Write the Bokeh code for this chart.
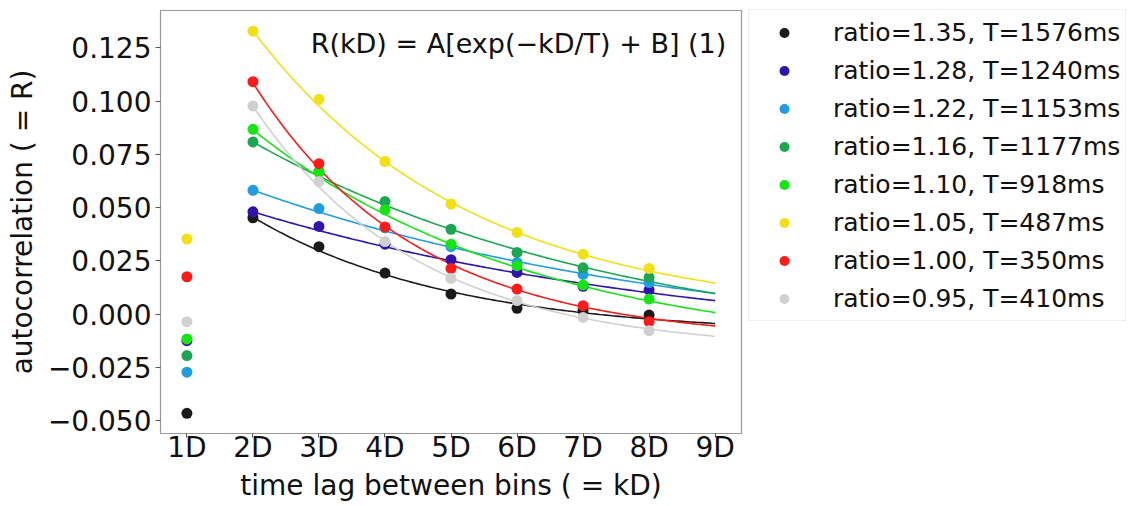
import numpy as np
from bokeh.plotting import figure
from bokeh.models import Legend, LegendItem, FixedTicker, Range1d, Label
from bokeh.embed import file_html
from bokeh.resources import INLINE

# ---- data ----
lags = [1, 2, 3, 4, 5, 6, 7, 8]
tick_values = [1, 2, 3, 4, 5, 6, 7, 8, 9]
tick_labels = ["1D", "2D", "3D", "4D", "5D", "6D", "7D", "8D", "9D"]
y_ticks = [-0.050, -0.025, 0.0, 0.025, 0.050, 0.075, 0.100, 0.125]
y_tick_labels = ["\u22120.050", "\u22120.025", "0.000", "0.025", "0.050", "0.075", "0.100", "0.125"]

labels = [
    "ratio=1.35, T=1576ms",
    "ratio=1.28, T=1240ms",
    "ratio=1.22, T=1153ms",
    "ratio=1.16, T=1177ms",
    "ratio=1.10, T=918ms",
    "ratio=1.05, T=487ms",
    "ratio=1.00, T=350ms",
    "ratio=0.95, T=410ms",
]
colors = ["#1a1a1a", "#3012ac", "#1e9ee0", "#1ba652", "#14e614", "#f2e014", "#ff1a1a", "#d0d0d0"]

r_135 = [-0.0466, 0.0452, 0.0316, 0.0192, 0.0094, 0.0027, 0.0016, -0.0005]
r_128 = [-0.0125, 0.0480, 0.0411, 0.0328, 0.0255, 0.0195, 0.0130, 0.0113]
r_122 = [-0.0273, 0.0581, 0.0495, 0.0405, 0.0316, 0.0242, 0.0186, 0.0148]
r_116 = [-0.0195, 0.0808, 0.0670, 0.0528, 0.0398, 0.0289, 0.0217, 0.0172]
r_110 = [-0.0117, 0.0867, 0.0665, 0.0489, 0.0328, 0.0227, 0.0136, 0.0070]
r_105 = [0.0352, 0.1328, 0.1008, 0.0716, 0.0516, 0.0383, 0.0281, 0.0214]
r_100 = [0.0175, 0.1091, 0.0706, 0.0409, 0.0214, 0.0117, 0.0039, -0.0036]
r_095 = [-0.0036, 0.0977, 0.0622, 0.0340, 0.0167, 0.0063, -0.0016, -0.0078]
series = [r_135, r_128, r_122, r_116, r_110, r_105, r_100, r_095]

# fitted curve parameters R = amp*exp(-k/tau) + offset (k in units of D)
fit_amp = [0.108, 0.0878, 0.1016, 0.1434, 0.170, 0.247, 0.2718, 0.2563]
fit_tau = [2.98, 7.0, 6.9, 5.8, 4.3, 3.28, 2.48, 2.496]
fit_offset = [-0.0097, -0.018, -0.0179, -0.0208, -0.0203, -0.0013, -0.0128, -0.0174]
fit_start, fit_end = 2, 9

FONT = "DejaVu Sans"

p = figure(frame_width=581, frame_height=423, output_backend="svg", toolbar_location=None,
           x_range=Range1d(0.6, 9.4), y_range=Range1d(-0.0561, 0.1425),
           min_border_left=160, min_border_right=0, min_border_top=10, min_border_bottom=60)
p.grid.visible = False
p.outline_line_color = "#999999"
p.outline_line_width = 1.2
p.background_fill_color = "white"
p.border_fill_color = "white"

kk = np.linspace(fit_start, fit_end, 141)
items = []
for lab, col, ys, a, t, c in zip(labels, colors, series, fit_amp, fit_tau, fit_offset):
    p.line(kk, a * np.exp(-kk / t) + c, line_color=col, line_width=1.6)
for lab, col, ys in zip(labels, colors, series):
    r = p.scatter(lags, ys, size=11, fill_color=col, line_color=col, line_width=0)
    items.append(LegendItem(label=lab, renderers=[r]))

for ax in (p.xaxis[0], p.yaxis[0]):
    ax.axis_line_color = None
    ax.major_tick_line_color = "#555555"
    ax.major_tick_out = 5
    ax.major_tick_in = 0
    ax.minor_tick_line_color = None
    ax.major_label_text_font = FONT
    ax.major_label_text_font_size = "28px"
    ax.major_label_text_color = "#111111"
    ax.axis_label_text_font = FONT
    ax.axis_label_text_font_size = "28px"
    ax.axis_label_text_font_style = "normal"
    ax.axis_label_text_color = "#111111"

p.xaxis.ticker = FixedTicker(ticks=tick_values)
p.xaxis.major_label_overrides = {v: s for v, s in zip(tick_values, tick_labels)}
p.xaxis.axis_label = "time lag between bins ( = kD)"
p.xaxis.major_tick_out = 4
p.xaxis.major_label_standoff = -7
p.xaxis.axis_label_standoff = 2

p.yaxis.ticker = FixedTicker(ticks=y_ticks)
p.yaxis.major_label_overrides = {v: s for v, s in zip(y_ticks, y_tick_labels)}
p.yaxis.axis_label = "autocorrelation ( = R)"
p.yaxis.major_label_standoff = 4
p.yaxis.axis_label_standoff = 6

formula = Label(x=9.3, y=0.127, text="R(kD) = A[exp(\u2212kD/T) + B]  (1)",
                text_font=FONT, text_font_size="27px", text_align="right",
                text_baseline="middle", text_color="#111111")
p.add_layout(formula)

legend = Legend(items=items, location=(7, 112))
legend.margin = 0
legend.padding = 5
legend.spacing = 4
legend.label_height = 34
legend.glyph_height = 25
legend.glyph_width = 60
legend.label_standoff = 19
legend.label_text_font = FONT
legend.label_text_font_size = "25px"
legend.label_text_color = "#111111"
legend.border_line_color = "#dddddd"
legend.border_line_width = 1.5
legend.background_fill_color = "white"
legend.background_fill_alpha = 1.0
p.add_layout(legend, "right")

open("out.html", "w").write(file_html(p, INLINE))
